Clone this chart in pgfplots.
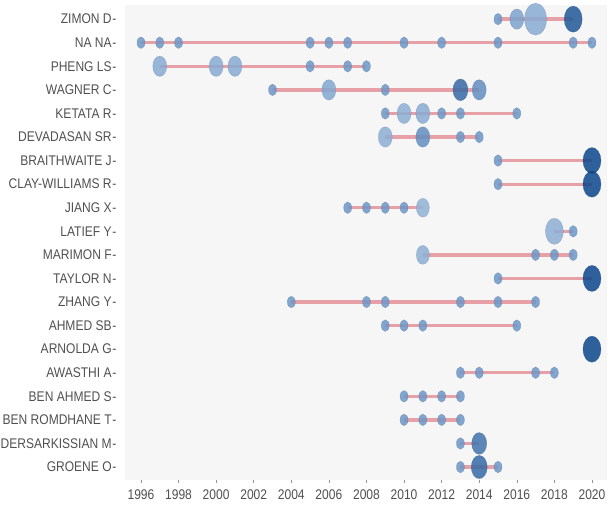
\documentclass[border=0pt]{standalone}
\usepackage{pgfplots}
\pgfplotsset{compat=1.18}
\usepackage{pgfplotstable}
\usetikzlibrary{calc}
\usepackage{fontspec}
\setmainfont{Liberation Sans}[FakeStretch=0.86]
\definecolor{txt}{HTML}{505050}
\definecolor{seg}{HTML}{DC5A64}
\definecolor{bg}{HTML}{F6F6F6}
\newcommand{\dsh}{\kern0.8pt-}

% x = year, y = row, r = marker radius, c = colour level
\pgfplotstableread{
x y r c
2015 0 4 0.55
2016 0 7 0.45
2017 0 11 0.35
2019 0 9 0.9
1996 1 4 0.55
1997 1 4 0.55
1998 1 4 0.55
2005 1 4 0.55
2006 1 4 0.55
2007 1 4 0.55
2010 1 4 0.55
2012 1 4 0.55
2015 1 4 0.55
2019 1 4 0.55
2020 1 4 0.55
1997 2 7 0.35
2000 2 7 0.35
2001 2 7 0.35
2005 2 4 0.55
2007 2 4 0.55
2008 2 4 0.55
2003 3 4 0.55
2006 3 7 0.4
2009 3 4 0.55
2013 3 7.5 0.8
2014 3 7 0.6
2009 4 4 0.55
2010 4 7 0.3
2011 4 7 0.35
2012 4 4 0.55
2013 4 4 0.55
2016 4 4 0.55
2009 5 7 0.3
2011 5 7 0.6
2013 5 4 0.55
2014 5 4 0.55
2015 6 4 0.55
2020 6 9 1
2015 7 4 0.55
2020 7 9 1
2007 8 4 0.55
2008 8 4 0.55
2009 8 4 0.55
2010 8 4 0.55
2011 8 6.5 0.25
2018 9 9 0.3
2019 9 4 0.55
2011 10 6.5 0.3
2017 10 4 0.55
2018 10 4 0.55
2019 10 4 0.55
2015 11 4 0.55
2020 11 9 1
2004 12 4 0.55
2008 12 4 0.55
2009 12 4 0.55
2013 12 4 0.55
2015 12 4 0.55
2017 12 4 0.55
2009 13 4 0.55
2010 13 4 0.55
2011 13 4 0.55
2016 13 4 0.55
2020 14 9 1
2013 15 4 0.55
2014 15 4 0.55
2017 15 4 0.55
2018 15 4 0.55
2010 16 4 0.55
2011 16 4 0.55
2012 16 4 0.55
2013 16 4 0.55
2010 17 4 0.55
2011 17 4 0.55
2012 17 4 0.55
2013 17 4 0.55
2013 18 4 0.55
2014 18 7.5 0.75
2013 19 4 0.55
2014 19 8 0.8
2015 19 4 0.55
}\pts

\begin{document}
\begin{tikzpicture}
\begin{axis}[
  scale only axis,
  width=482pt, height=475pt,
  xmin=1995.15, xmax=2020.8,
  ymin=-0.6, ymax=19.55,
  y dir=reverse,
  axis background/.style={fill=bg},
  axis line style={draw=none},
  xtick={1996,1998,...,2020},
  ytick={0,...,19},
  yticklabels={ZIMON D\dsh,NA NA\dsh,PHENG LS\dsh,WAGNER C\dsh,KETATA R\dsh,DEVADASAN SR\dsh,BRAITHWAITE J\dsh,CLAY-WILLIAMS R\dsh,JIANG X\dsh,LATIEF Y\dsh,MARIMON F\dsh,TAYLOR N\dsh,ZHANG Y\dsh,AHMED SB\dsh,ARNOLDA G\dsh,AWASTHI A\dsh,BEN AHMED S\dsh,BEN ROMDHANE T\dsh,DERSARKISSIAN M\dsh,GROENE O\dsh},
  xtick pos=bottom, ytick pos=left,
  tick align=outside,
  xtick style={txt!60, line width=0.6pt},
  ytick style={draw=none},
  major tick length=3pt,
  /pgf/number format/1000 sep={},
  /pgf/number format/assume math mode=true,
  ticklabel style={font=\fontsize{14}{16}\selectfont, text=txt},
  yticklabel style={xshift=-2pt},
  xticklabel style={yshift=-3pt},
  colormap={blues}{rgb255=(172,198,226) rgb255=(120,160,205) rgb255=(11,70,140)},
  point meta min=0, point meta max=1,
  clip=false,
  segst/.style={seg, opacity=0.55, line width=3.3pt, mark=none, forget plot},
]
\addplot[scatter, only marks, mark=*, point meta=explicit,
  mark options={yscale=1.45, fill opacity=0.85, draw opacity=0.5},
  visualization depends on={\thisrow{r} \as \perpointmarksize},
  scatter/@pre marker code/.append style={/tikz/mark size=\perpointmarksize}]
  table[x=x, y=y, meta=c] {\pts};

\addplot[segst] coordinates {(2015,0) (2019,0)};
\addplot[segst] coordinates {(1996,1) (2020,1)};
\addplot[segst] coordinates {(1997,2) (2008,2)};
\addplot[segst] coordinates {(2003,3) (2014,3)};
\addplot[segst] coordinates {(2009,4) (2016,4)};
\addplot[segst] coordinates {(2009,5) (2014,5)};
\addplot[segst] coordinates {(2015,6) (2020,6)};
\addplot[segst] coordinates {(2015,7) (2020,7)};
\addplot[segst] coordinates {(2007,8) (2011,8)};
\addplot[segst] coordinates {(2018,9) (2019,9)};
\addplot[segst] coordinates {(2011,10) (2019,10)};
\addplot[segst] coordinates {(2015,11) (2020,11)};
\addplot[segst] coordinates {(2004,12) (2017,12)};
\addplot[segst] coordinates {(2009,13) (2016,13)};
\addplot[segst] coordinates {(2013,15) (2018,15)};
\addplot[segst] coordinates {(2010,16) (2013,16)};
\addplot[segst] coordinates {(2010,17) (2013,17)};
\addplot[segst] coordinates {(2013,18) (2014,18)};
\addplot[segst] coordinates {(2013,19) (2015,19)};
\end{axis}
\pgfresetboundingbox
\path ($(current axis.south west)+(-125pt,-33pt)$) rectangle ($(current axis.north east)+(4pt,5pt)$);
\end{tikzpicture}
\end{document}
